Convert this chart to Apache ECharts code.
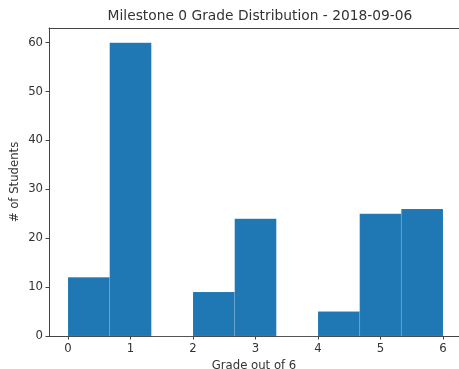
<!DOCTYPE html>
<html><head><meta charset="utf-8">
<script src="https://cdn.jsdelivr.net/npm/echarts@6/dist/echarts.min.js"></script>
<style>html,body{margin:0;padding:0;background:#fff}#c{width:459px;height:369px}</style>
</head><body><div id="c"></div>
<script>
const binEdges = [0, 0.6667, 1.3333, 2, 2.6667, 3.3333, 4, 4.6667, 5.3333, 6];
const counts = [12, 60, 0, 9, 24, 0, 5, 25, 26];
const xTicks = [0, 1, 2, 3, 4, 5, 6];
const yTicks = [0, 10, 20, 30, 40, 50, 60];

const data = counts.map((c, i) => [binEdges[i], binEdges[i + 1], c]);
const font = 'DejaVu Sans';
const txt = '#333';
const line = '#444';
const chart = echarts.init(document.getElementById('c'));
chart.setOption({
  animation: false,
  title: {
    text: 'Milestone 0 Grade Distribution - 2018-09-06',
    left: 255, textAlign: 'center', top: 4,
    textStyle: { fontFamily: font, fontSize: 13.8, fontWeight: 'normal', color: txt }
  },
  grid: { left: 49, top: 28, right: 0, height: 308, show: false, containLabel: false, outerBoundsMode: 'none' },
  xAxis: [{
    type: 'value', min: -0.304, max: 6.256,
    name: 'Grade out of 6', nameLocation: 'middle', nameGap: 22,
    nameTextStyle: { fontFamily: font, fontSize: 11.7, color: txt },
    axisLine: { show: true, onZero: false, lineStyle: { color: line, width: 1 } },
    axisTick: { show: true, customValues: xTicks, length: 3.5, lineStyle: { color: line } },
    axisLabel: { customValues: xTicks, fontFamily: font, fontSize: 11.7, color: txt, margin: 7 },
    splitLine: { show: false }
  }, {
    type: 'value', min: -0.304, max: 6.256, position: 'top',
    axisLine: { show: true, onZero: false, lineStyle: { color: line, width: 1 } },
    axisTick: { show: false }, axisLabel: { show: false }, splitLine: { show: false }
  }],
  yAxis: {
    type: 'value', min: 0, max: 63,
    name: '# of Students', nameLocation: 'middle', nameGap: 28, nameMoveOverlap: false,
    nameTextStyle: { fontFamily: font, fontSize: 11.7, color: txt },
    axisLine: { show: true, onZero: false, lineStyle: { color: line, width: 1 } },
    axisTick: { show: true, customValues: yTicks, length: 3.5, lineStyle: { color: line } },
    axisLabel: { customValues: yTicks, fontFamily: font, fontSize: 11.7, color: txt, margin: 6 },
    splitLine: { show: false }
  },
  series: [{
    type: 'custom',
    data: data,
    encode: { x: [0, 1], y: 2 },
    renderItem: function (params, api) {
      const p0 = api.coord([api.value(0), 0]);
      const p1 = api.coord([api.value(1), api.value(2)]);
      return {
        type: 'rect',
        shape: { x: p0[0], y: p1[1], width: p1[0] - p0[0], height: p0[1] - p1[1] },
        style: { fill: '#1f77b4', stroke: 'rgba(255,255,255,0.2)', lineWidth: 0.5 }
      };
    }
  }]
});
</script></body></html>
